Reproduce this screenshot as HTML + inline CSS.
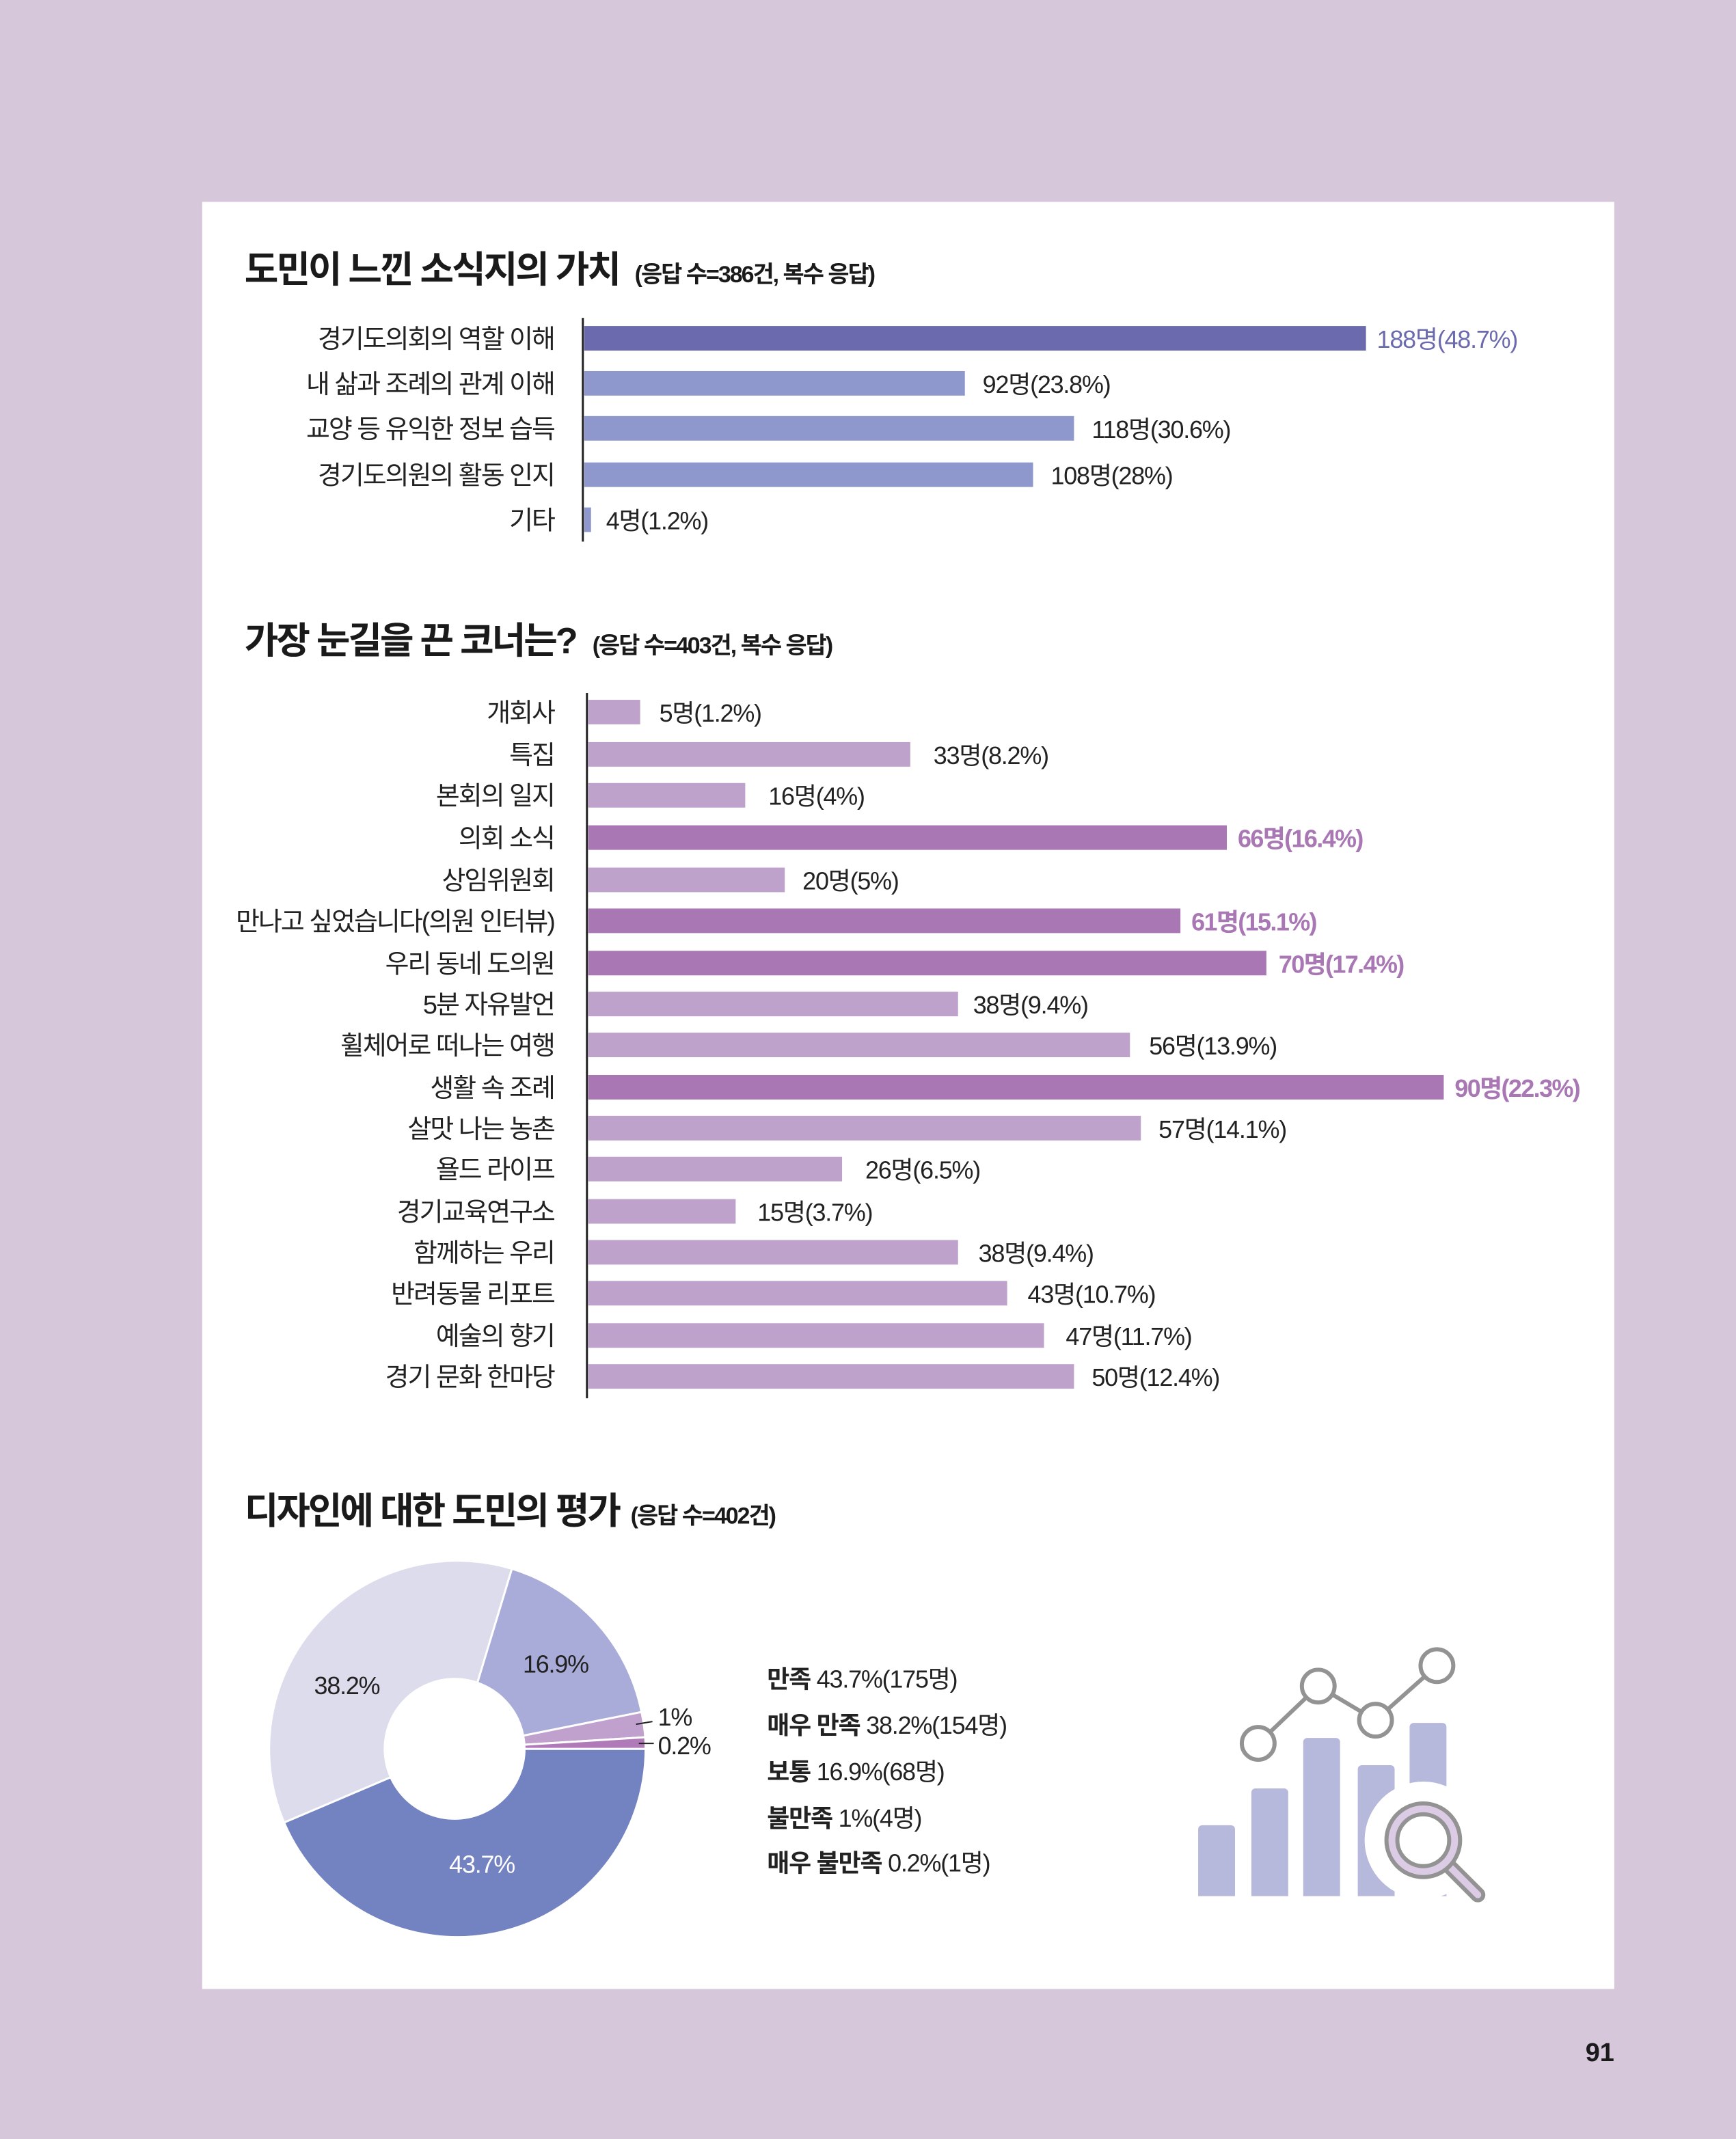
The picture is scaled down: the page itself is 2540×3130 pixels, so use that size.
<!DOCTYPE html>
<html><head><meta charset="utf-8"><style>
html,body{margin:0;padding:0;background:#d6c8da;}
svg{display:block;}
text{font-family:"Liberation Sans","Noto Sans CJK KR",sans-serif;}
</style></head><body>
<svg width="2540" height="3130" viewBox="0 0 1272 1568" xmlns="http://www.w3.org/2000/svg">
<rect x="0" y="0" width="1272" height="1568" fill="#d6c8da"/>
<rect x="148" y="148" width="1035" height="1310" fill="#ffffff"/>

<text x="179" y="207" font-size="27" font-weight="bold" fill="#1a1a1a" letter-spacing="-1.5">도민이 느낀 소식지의 가치</text>
<text x="465" y="207" font-size="17" font-weight="bold" fill="#1a1a1a" letter-spacing="-1">(응답 수=386건, 복수 응답)</text>
<line x1="427" y1="233" x2="427" y2="397" stroke="#222" stroke-width="1.5"/>
<g font-size="19" fill="#222" text-anchor="end" letter-spacing="-1">
<text x="406" y="255">경기도의회의 역할 이해</text>
<text x="406" y="288">내 삶과 조례의 관계 이해</text>
<text x="406" y="321">교양 등 유익한 정보 습득</text>
<text x="406" y="355">경기도의원의 활동 인지</text>
<text x="406" y="388">기타</text>
</g>
<rect x="428" y="239" width="573" height="18" fill="#6b6aae"/>
<rect x="428" y="272" width="279" height="18" fill="#8f98cc"/>
<rect x="428" y="305" width="359" height="18" fill="#8f98cc"/>
<rect x="428" y="339" width="329" height="18" fill="#8f98cc"/>
<rect x="428" y="372" width="5" height="18" fill="#8f98cc"/>
<g font-size="18" fill="#222" letter-spacing="-0.6">
<text x="1009" y="255" fill="#6b6aae">188명(48.7%)</text>
<text x="720" y="288">92명(23.8%)</text>
<text x="800" y="321">118명(30.6%)</text>
<text x="770" y="355">108명(28%)</text>
<text x="444" y="388">4명(1.2%)</text>
</g>

<text x="179" y="479" font-size="27" font-weight="bold" fill="#1a1a1a" letter-spacing="-1.5">가장 눈길을 끈 코너는?</text>
<text x="434" y="479" font-size="17" font-weight="bold" fill="#1a1a1a" letter-spacing="-1">(응답 수=403건, 복수 응답)</text>
<line x1="430" y1="508" x2="430" y2="1025" stroke="#222" stroke-width="1.5"/>
<g font-size="19" fill="#222" text-anchor="end" letter-spacing="-1">
<text x="406" y="529">개회사</text>
<text x="406" y="560">특집</text>
<text x="406" y="590">본회의 일지</text>
<text x="406" y="621">의회 소식</text>
<text x="406" y="652">상임위원회</text>
<text x="406" y="682">만나고 싶었습니다(의원 인터뷰)</text>
<text x="406" y="713">우리 동네 도의원</text>
<text x="406" y="743">5분 자유발언</text>
<text x="406" y="773">휠체어로 떠나는 여행</text>
<text x="406" y="804">생활 속 조례</text>
<text x="406" y="834">살맛 나는 농촌</text>
<text x="406" y="864">욜드 라이프</text>
<text x="406" y="895">경기교육연구소</text>
<text x="406" y="925">함께하는 우리</text>
<text x="406" y="955">반려동물 리포트</text>
<text x="406" y="986">예술의 향기</text>
<text x="406" y="1016">경기 문화 한마당</text>
</g>
<g fill="#bea2cc">
<rect x="431" y="513" width="38" height="18"/>
<rect x="431" y="544" width="236" height="18"/>
<rect x="431" y="574" width="115" height="18"/>
<rect x="431" y="636" width="144" height="18"/>
<rect x="431" y="727" width="271" height="18"/>
<rect x="431" y="757" width="397" height="18"/>
<rect x="431" y="818" width="405" height="18"/>
<rect x="431" y="848" width="186" height="18"/>
<rect x="431" y="879" width="108" height="18"/>
<rect x="431" y="909" width="271" height="18"/>
<rect x="431" y="939" width="307" height="18"/>
<rect x="431" y="970" width="334" height="18"/>
<rect x="431" y="1000" width="356" height="18"/>
</g>
<g fill="#a877b4">
<rect x="431" y="605" width="468" height="18"/>
<rect x="431" y="666" width="434" height="18"/>
<rect x="431" y="697" width="497" height="18"/>
<rect x="431" y="788" width="627" height="18"/>
</g>
<g font-size="18" fill="#222" letter-spacing="-0.6">
<text x="483" y="529">5명(1.2%)</text>
<text x="684" y="560">33명(8.2%)</text>
<text x="563" y="590">16명(4%)</text>
<text x="588" y="652">20명(5%)</text>
<text x="713" y="743">38명(9.4%)</text>
<text x="842" y="773">56명(13.9%)</text>
<text x="849" y="834">57명(14.1%)</text>
<text x="634" y="864">26명(6.5%)</text>
<text x="555" y="895">15명(3.7%)</text>
<text x="717" y="925">38명(9.4%)</text>
<text x="753" y="955">43명(10.7%)</text>
<text x="781" y="986">47명(11.7%)</text>
<text x="800" y="1016">50명(12.4%)</text>
</g>
<g font-size="18" font-weight="bold" fill="#a877b4" letter-spacing="-0.8">
<text x="907" y="621">66명(16.4%)</text>
<text x="873" y="682">61명(15.1%)</text>
<text x="937" y="713">70명(17.4%)</text>
<text x="1066" y="804">90명(22.3%)</text>
</g>

<text x="179" y="1117" font-size="27" font-weight="bold" fill="#1a1a1a" letter-spacing="-1.5">디자인에 대한 도민의 평가</text>
<text x="462" y="1117" font-size="17" font-weight="bold" fill="#1a1a1a" letter-spacing="-1">(응답 수=402건)</text>

<g stroke="#ffffff" stroke-width="1.5">
<path d="M335,1282 L473,1282 A138,138 0 0 1 208,1336 Z" fill="#7382c0"/>
<path d="M335,1282 L208,1336 A138,138 0 0 1 375,1150 Z" fill="#dcdcec"/>
<path d="M335,1282 L375,1150 A138,138 0 0 1 470,1255 Z" fill="#a9acd8"/>
<path d="M335,1282 L470,1255 A138,138 0 0 1 472.7,1273.5 Z" fill="#c0a0cc"/>
<path d="M335,1282 L472.7,1273.5 A138,138 0 0 1 473,1282 Z" fill="#b07ab8"/>
</g>
<ellipse cx="333" cy="1282" rx="52" ry="52" fill="#ffffff"/>
<g font-size="18" letter-spacing="-0.6">
<text x="230" y="1242" fill="#222">38.2%</text>
<text x="383" y="1226" fill="#222">16.9%</text>
<text x="329" y="1373" fill="#ffffff">43.7%</text>
<text x="482" y="1265" fill="#222">1%</text>
<text x="482" y="1286" fill="#222">0.2%</text>
</g>
<line x1="466" y1="1264" x2="478" y2="1262" stroke="#222" stroke-width="1"/>
<line x1="468" y1="1278" x2="479" y2="1278" stroke="#222" stroke-width="1"/>

<g font-size="18" fill="#222" letter-spacing="-0.6">
<text x="562" y="1237"><tspan font-weight="bold">만족</tspan> 43.7%(175명)</text>
<text x="562" y="1271"><tspan font-weight="bold">매우 만족</tspan> 38.2%(154명)</text>
<text x="562" y="1305"><tspan font-weight="bold">보통</tspan> 16.9%(68명)</text>
<text x="562" y="1339"><tspan font-weight="bold">불만족</tspan> 1%(4명)</text>
<text x="562" y="1372"><tspan font-weight="bold">매우 불만족</tspan> 0.2%(1명)</text>
</g>

<g fill="#b6b8dc">
<path d="M878,1390 V1341 a3,3 0 0 1 3,-3 h21 a3,3 0 0 1 3,3 V1390 Z"/>
<path d="M917,1390 V1314 a3,3 0 0 1 3,-3 h21 a3,3 0 0 1 3,3 V1390 Z"/>
<path d="M955,1390 V1277 a3,3 0 0 1 3,-3 h21 a3,3 0 0 1 3,3 V1390 Z"/>
<path d="M995,1390 V1297 a3,3 0 0 1 3,-3 h21 a3,3 0 0 1 3,3 V1390 Z"/>
<path d="M1033,1390 V1266 a3,3 0 0 1 3,-3 h21 a3,3 0 0 1 3,3 V1390 Z"/>
</g>
<circle cx="1043" cy="1349" r="43" fill="#ffffff"/>
<g stroke="#939393" stroke-width="3" fill="#ffffff">
<polyline points="922,1278 966,1236 1008,1261 1053,1221" fill="none"/>
<circle cx="922" cy="1278" r="12"/>
<circle cx="966" cy="1236" r="12"/>
<circle cx="1008" cy="1261" r="12"/>
<circle cx="1053" cy="1221" r="12"/>
</g>
<line x1="1063" y1="1369" x2="1083" y2="1389" stroke="#939393" stroke-width="11" stroke-linecap="round"/>
<line x1="1063" y1="1369" x2="1083" y2="1389" stroke="#dccbe4" stroke-width="5" stroke-linecap="round"/>
<circle cx="1043" cy="1349" r="27" fill="#dccbe4" stroke="#939393" stroke-width="3"/>
<circle cx="1043" cy="1349" r="19" fill="#ffffff" stroke="#939393" stroke-width="3"/>

<text x="1183" y="1511" font-size="19" font-weight="bold" fill="#1a1a1a" text-anchor="end">91</text>
</svg>
</body></html>
